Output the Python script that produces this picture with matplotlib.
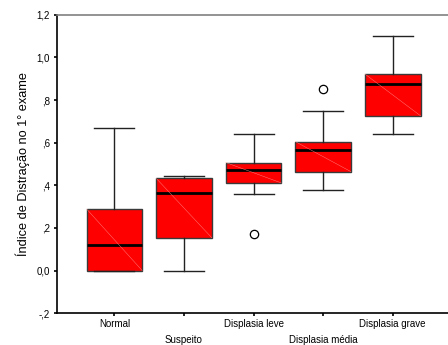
import matplotlib
matplotlib.use("Agg")
import matplotlib.pyplot as plt

categories = ["Normal", "Suspeito", "Displasia leve", "Displasia média", "Displasia grave"]
whisker_low = [0.0, 0.0, 0.358, 0.380, 0.641]
q1 = [0.0, 0.154, 0.411, 0.464, 0.726]
median = [0.12, 0.364, 0.471, 0.565, 0.876]
q3 = [0.289, 0.433, 0.507, 0.605, 0.922]
whisker_high = [0.668, 0.446, 0.641, 0.748, 1.099]
outliers = [[], [], [0.173], [0.85], []]
ytick_vals = [-0.2, 0.0, 0.2, 0.4, 0.6, 0.8, 1.0, 1.2]
ytick_labels = ["-,2", "0,0", ",2", ",4", ",6", ",8", "1,0", "1,2"]

plt.rcParams['font.family'] = ['Liberation Sans', 'DejaVu Sans']

fig = plt.figure(figsize=(4.48, 3.45), dpi=100)
ax = fig.add_axes([0.127, 0.0919, 0.873, 0.8655])

stats = []
for i in range(len(categories)):
    stats.append(dict(med=median[i], q1=q1[i], q3=q3[i],
                      whislo=whisker_low[i], whishi=whisker_high[i],
                      fliers=outliers[i]))
positions = list(range(len(categories)))
w = 0.8
ax.bxp(stats, positions=positions, widths=w, patch_artist=True,
       capwidths=0.575,
       boxprops=dict(facecolor='#ff0000', edgecolor='#3a3a3a', linewidth=1.0),
       medianprops=dict(color='black', linewidth=2.0),
       whiskerprops=dict(color='#222222', linewidth=1.0),
       capprops=dict(color='#222222', linewidth=1.0),
       flierprops=dict(marker='o', markerfacecolor='white', markeredgecolor='black',
                       markersize=6, markeredgewidth=0.9))

# faint diagonal in each box
for i, p in enumerate(positions):
    ax.plot([p - w / 2, p + w / 2], [q3[i], q1[i]], color='#ff8a8a', lw=0.3, zorder=2.5)

ax.set_xlim(-0.827, 4.795)
ax.set_ylim(-0.2, 1.2)
ax.set_yticks(ytick_vals)
ax.set_yticklabels(ytick_labels)
ax.set_xticks(positions)
labels = [c if i % 2 == 0 else "\n" + c for i, c in enumerate(categories)]
ax.set_xticklabels(labels)
for t in ax.get_xticklabels():
    t.set_linespacing(1.75)
ax.tick_params(axis='both', direction='out', length=2, width=1.2, labelsize=7, pad=3, colors='black')
ax.tick_params(axis='x', pad=2)

ax.spines['right'].set_visible(False)
ax.spines['top'].set_color('#808080')
ax.spines['top'].set_linewidth(1.2)
ax.spines['left'].set_linewidth(1.2)
ax.spines['bottom'].set_linewidth(1.2)

ax.set_ylabel("Índice de Distração no 1° exame", fontsize=9.2, labelpad=5)

fig.savefig("out.png", dpi=100)
